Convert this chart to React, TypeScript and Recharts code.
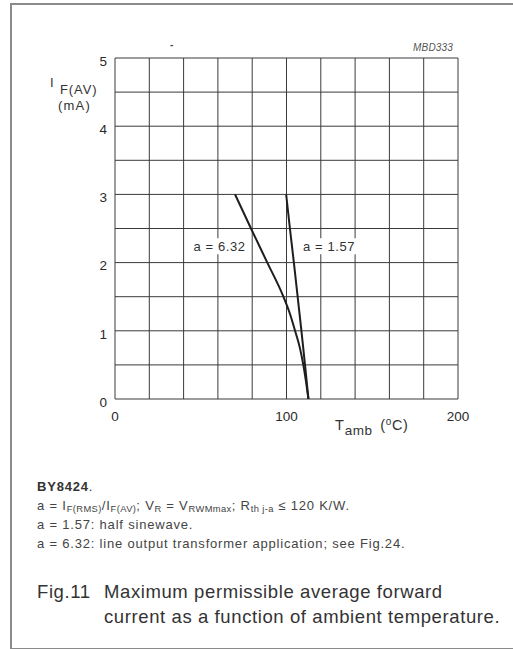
import React from 'react';
import { LineChart, Line, XAxis, YAxis, CartesianGrid, ReferenceDot } from 'recharts';

// ambient temperature (°C) vs max average forward current (mA)
const xTicks = [0, 20, 40, 60, 80, 100, 120, 140, 160, 180, 200];
const yTicks = [0, 0.5, 1, 1.5, 2, 2.5, 3, 3.5, 4, 4.5, 5];
const xLabeled = [0, 100, 200];

const curveA632 = [
  { t: 70, i: 3 },
  { t: 79.3, i: 2.5 },
  { t: 88.8, i: 2 },
  { t: 98.2, i: 1.5 },
  { t: 102, i: 1.25 },
  { t: 105, i: 1 },
  { t: 107.8, i: 0.75 },
  { t: 109.8, i: 0.5 },
  { t: 111.4, i: 0.25 },
  { t: 112.8, i: 0 },
];

const curveA157 = [
  { t: 99.8, i: 3 },
  { t: 102, i: 2.5 },
  { t: 104.3, i: 2 },
  { t: 106.5, i: 1.5 },
  { t: 108.7, i: 1 },
  { t: 110.8, i: 0.5 },
  { t: 112.8, i: 0 },
];

const curveLabels = [
  { t: 61, i: 2.24, text: 'a = 6.32' },
  { t: 124.8, i: 2.24, text: 'a = 1.57' },
];

const FONT = '"Liberation Sans", Arial, Helvetica, sans-serif';
const INK = '#2a2a2a';

const LabelShape = ({ cx, cy, text }: any) => (
  <g>
    <rect x={cx - 30} y={cy - 8} width={60} height={16} fill="#fff" />
    <text x={cx} y={cy} dy="0.36em" textAnchor="middle" fontSize={13} letterSpacing={0.6} fill="#333" fontFamily={FONT}>
      {text}
    </text>
  </g>
);

const abs = (left: number, top: number, extra: React.CSSProperties = {}): React.CSSProperties => ({
  position: 'absolute',
  left,
  top,
  whiteSpace: 'nowrap',
  lineHeight: 1,
  ...extra,
});

const sub: React.CSSProperties = { fontSize: '0.72em', verticalAlign: '-0.25em', letterSpacing: 0.4 };
const note: React.CSSProperties = { fontSize: 13, letterSpacing: 0.8, color: '#444' };
const caption: React.CSSProperties = { fontSize: 18.5, letterSpacing: 0.6, color: '#333' };

export default function App() {
  return (
    <div style={{ position: 'absolute', left: 0, top: 0, width: 513, height: 649, background: '#fff', overflow: 'hidden', fontFamily: FONT, color: '#333' }}>
      <div style={{ position: 'absolute', left: 10, top: 3, width: 540, height: 643, border: '2px solid #8a8a8a', borderRight: 'none' }} />

      <div style={{ position: 'absolute', left: 0, top: 0 }}>
        <LineChart width={513} height={450} margin={{ top: 58, right: 55, left: 85, bottom: 21 }}>
          <CartesianGrid stroke="#3a3a3a" strokeWidth={1} horizontalValues={yTicks} verticalValues={xTicks} />
          <XAxis
            dataKey="t"
            type="number"
            domain={[0, 200]}
            ticks={xTicks}
            interval={0}
            height={30}
            axisLine={false}
            tickLine={false}
            tickMargin={6}
            tickFormatter={(v: number) => (xLabeled.includes(v) ? String(v) : '')}
            tick={{ fontSize: 13.5, fill: INK, fontFamily: FONT }}
            allowDataOverflow
          />
          <YAxis
            type="number"
            domain={[0, 5]}
            ticks={yTicks}
            interval={0}
            width={30}
            axisLine={false}
            tickLine={false}
            tickFormatter={(v: number) => (Number.isInteger(v) ? String(v) : '')}
            tick={{ fontSize: 13.5, fill: INK, fontFamily: FONT, dy: 3 }}
            allowDataOverflow
          />
          <Line data={curveA632} dataKey="i" type="monotone" stroke="#1e1e1e" strokeWidth={2} dot={false} isAnimationActive={false} />
          <Line data={curveA157} dataKey="i" type="monotone" stroke="#1e1e1e" strokeWidth={2} dot={false} isAnimationActive={false} />
          {curveLabels.map((l) => (
            <ReferenceDot key={l.text} x={l.t} y={l.i} r={1} shape={(p: any) => <LabelShape {...p} text={l.text} />} />
          ))}
        </LineChart>
      </div>

      {/* axis titles */}
      <div style={abs(50, 76, { fontSize: 13 })}>I</div>
      <div style={abs(60, 83, { fontSize: 13, letterSpacing: 0.9 })}>F(AV)</div>
      <div style={abs(58, 99, { fontSize: 13, letterSpacing: 1.2 })}>(mA)</div>
      <div style={abs(335, 418, { fontSize: 14.5 })}>
        T<span style={{ fontSize: 13.5, position: 'relative', top: 5, marginLeft: 1, letterSpacing: 0.4 }}>amb</span>
        <span style={{ marginLeft: 8, letterSpacing: 0.6 }}>
          (<span style={{ fontSize: 10, position: 'relative', top: -5 }}>o</span>C)
        </span>
      </div>
      <div style={abs(413, 43, { fontSize: 10, fontStyle: 'italic', color: '#555', letterSpacing: 0.2 })}>MBD333</div>
      <div style={abs(170, 40, { fontSize: 10, fontWeight: 700, color: '#444' })}>-</div>

      {/* notes */}
      <div style={abs(37, 480, { ...note, color: '#333' })}>
        <b>BY8424</b>.
      </div>
      <div style={abs(37, 499, note)}>
        a = I<span style={sub}>F(RMS)</span>/I<span style={sub}>F(AV)</span>; V<span style={sub}>R</span> = V
        <span style={sub}>RWMmax</span>; R<span style={sub}>th j-a</span> ≤ 120 K/W.
      </div>
      <div style={abs(37, 518, note)}>a = 1.57: half sinewave.</div>
      <div style={abs(37, 537, note)}>a = 6.32: line output transformer application; see Fig.24.</div>

      {/* caption */}
      <div style={abs(37, 583, caption)}>Fig.11</div>
      <div style={abs(104, 583, caption)}>Maximum permissible average forward</div>
      <div style={abs(104, 608, caption)}>current as a function of ambient temperature.</div>
    </div>
  );
}
